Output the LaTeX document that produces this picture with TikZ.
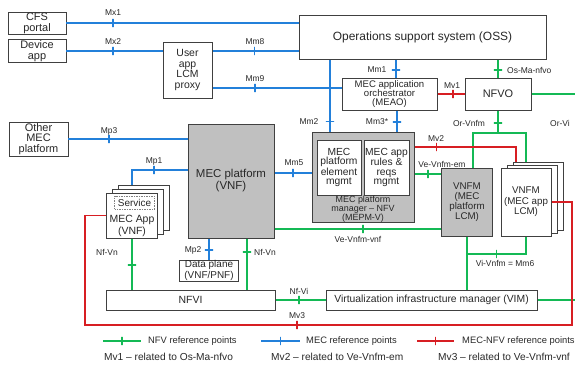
\documentclass[tikz,border=0pt]{standalone}
\usepackage{fontspec}
\setmainfont{Liberation Sans}
\definecolor{nfvgreen}{RGB}{20,185,85}
\definecolor{mecblue}{RGB}{35,128,218}
\definecolor{mnred}{RGB}{215,30,35}
\definecolor{edgegray}{RGB}{64,64,64}
\definecolor{txt}{RGB}{40,40,40}
\definecolor{platgray}{RGB}{192,192,192}
\newcommand{\fs}[1]{\fontsize{#1}{#1}\selectfont}
\tikzset{
  box/.style={draw=edgegray, line width=1pt, fill=white, inner sep=0.5pt,
    align=center, text=txt, font=\fontsize{11}{11}\selectfont},
  graybox/.style={box, fill=platgray},
  nfv/.style={color=nfvgreen, line width=1.6pt},
  mec/.style={color=mecblue, line width=1.6pt},
  mecnfv/.style={color=mnred, line width=1.6pt},
  tick/.style={draw, sloped, shape=rectangle, minimum width=0pt,
    minimum height=8.5pt, inner sep=0pt, outer sep=0pt, line width=1.7pt},
  lab/.style={text=txt, font=\fontsize{8.5}{9}\selectfont, inner sep=0pt},
  legtext/.style={text=txt, font=\fontsize{9.4}{10}\selectfont, inner sep=0pt, anchor=west},
  reltext/.style={text=txt, font=\fontsize{10.2}{11}\selectfont, inner sep=0pt, anchor=west},
}
\begin{document}
\begin{tikzpicture}[x=1bp,y=-1bp]
\useasboundingbox (0,0) rectangle (575,369);

% ---- boxes ----
\node[box, minimum width=58bp, minimum height=22bp] (cfs) at (37,23) {CFS\\portal};
\node[box, minimum width=58bp, minimum height=22bp] (dev) at (37,51) {Device\\app};
\node[box, minimum width=49bp, minimum height=56bp, font=\fs{10.5}] (proxy) at (187.5,70) {User\\app\\LCM\\proxy};
\node[box, minimum width=247bp, minimum height=44bp, font=\fs{12}] (oss) at (422.5,37) {Operations support system (OSS)};
\node[box, minimum width=95bp, minimum height=32bp, font=\fontsize{9.6}{9.2}\selectfont] (meao) at (389.5,94) {MEC application\\orchestrator\\(MEAO)};
\node[box, minimum width=66bp, minimum height=32bp] (nfvo) at (498,94) {NFVO};
\node[box, minimum width=59bp, minimum height=34bp, font=\fontsize{11}{10.5}\selectfont] (other) at (38.5,139) {Other\\MEC\\platform};
\node[graybox, minimum width=86bp, minimum height=114bp, font=\fontsize{11.5}{12}\selectfont] (mecp) at (231,181) {MEC platform\\(VNF)};

% MEC platform manager with its two inner blocks
\node[graybox, minimum width=102bp, minimum height=90bp] (mepm) at (363,177) {};
\node[box, minimum width=44bp, minimum height=55bp, font=\fontsize{10.3}{9.6}\selectfont] (pem) at (339,167.5) {MEC\\platform\\element\\mgmt};
\node[box, minimum width=45bp, minimum height=55bp, font=\fontsize{10.3}{9.6}\selectfont] (rules) at (386.5,167.5) {MEC app\\rules \&\\reqs\\mgmt};
\node[text=txt, align=center, inner sep=0pt, font=\fontsize{9}{9}\selectfont] (mepmlab) at (363,209.5) {MEC platform\\manager -- NFV\\(MEPM-V)};

\node[graybox, minimum width=51bp, minimum height=68bp, font=\fontsize{9.8}{10}\selectfont] (vnfmp) at (467,202) {VNFM\\(MEC\\platform\\LCM)};

% stacked VNFM (MEC app LCM)
\node[box, minimum width=50bp, minimum height=68bp] (vnfma3) at (538,196) {};
\node[box, minimum width=50bp, minimum height=68bp] (vnfma2) at (532,199) {};
\node[box, minimum width=50bp, minimum height=68bp, font=\fontsize{9.8}{10.5}\selectfont] (vnfma) at (526,202) {VNFM\\(MEC app\\LCM)};

% stacked MEC App (VNF)
\node[box, minimum width=51bp, minimum height=45bp] (app3) at (144,207.5) {};
\node[box, minimum width=51bp, minimum height=45bp] (app2) at (138,211.5) {};
\node[box, minimum width=51bp, minimum height=45bp] (app) at (132,215.5) {};
\node[draw=gray, line width=0.6pt, dash pattern=on 1.5pt off 1pt, minimum width=40bp,
  minimum height=13bp, inner sep=0pt, text=txt, font=\fs{10}] (svc) at (134.5,202.5) {Service};
\node[text=txt, align=center, inner sep=0pt, font=\fontsize{10.5}{11.5}\selectfont] (applab) at (132,226) {MEC App\\(VNF)};

\node[box, minimum width=59bp, minimum height=21bp, font=\fontsize{10}{10.5}\selectfont] (dp) at (209,270.5) {Data plane\\(VNF/PNF)};
\node[box, minimum width=169bp, minimum height=20bp, font=\fs{10.5}] (nfvi) at (190.5,300) {NFVI};
\node[box, minimum width=211bp, minimum height=20bp, font=\fs{10.4}] (vim) at (431.5,300) {Virtualization infrastructure manager (VIM)};

% ---- bend points ----
\coordinate (mp1) at (132,170);
\coordinate (jn) at (498,133);
\coordinate (g1) at (473,133);
\coordinate (g2) at (526,133);
\coordinate (rv) at (516,147);
\coordinate (em) at (0,174);
\coordinate (m5) at (0,173);
\coordinate (vv) at (0,229);
\coordinate (vm) at (467,254);
\coordinate (nr) at (247,0);
\coordinate (m2) at (330,0);
\coordinate (m1) at (396,0);
\coordinate (m3) at (397,0);
\coordinate (y51) at (0,51);
\coordinate (y88) at (0,88);
\coordinate (r1) at (85,325);
\coordinate (r2) at (572,325);
\coordinate (orvi) at (575,94);
\coordinate (vimr) at (575,300);

% ---- MEC reference points ----
\draw[mec] (cfs.east) -- node[pos=.2,tick]{} (oss.west |- cfs.east);
\draw[mec] (dev.east) -- node[pos=.485,tick]{} (proxy.west |- dev.east);
\draw[mec] (proxy.east |- y51) -- node[pos=.49,tick]{} (oss.west |- y51);
\draw[mec] (proxy.east |- y88) -- node[pos=.33,tick]{} (meao.west |- y88);
\draw[mec] (oss.south -| m2) -- node[pos=.86,tick]{} (mepm.north -| m2);
\draw[mec] (oss.south -| m1) -- node[pos=.57,tick]{} (meao.north -| m1);
\draw[mec] (meao.south -| m3) -- node[pos=.55,tick]{} (mepm.north -| m3);
\draw[mec] (other.east) -- node[pos=.34,tick]{} (mecp.west |- other.east);
\draw[mec] (mecp.west |- mp1) -- node[pos=.6,tick]{} (mp1) -- (mp1 |- app3.north);
\draw[mec] (mecp.east |- m5) -- node[pos=.5,tick]{} (mepm.west |- m5);
\draw[mec] (mecp.south -| dp.north) -- node[pos=.55,tick]{} (dp.north);

% ---- NFV reference points ----
\draw[nfv] (oss.south -| nfvo.north) -- node[pos=.57,tick]{} (nfvo.north);
\draw[nfv] (nfvo.east) -- (orvi);
\draw[nfv] (nfvo.south) -- node[pos=.55,tick]{} (jn);
\draw[nfv] (g1 |- vnfmp.north) -- (g1) -- (g2) -- (g2 |- vnfma3.north);
\draw[nfv] (mepm.east |- em) -- node[pos=.5,tick]{} (vnfmp.west |- em);
\draw[nfv] (mecp.east |- vv) -- node[pos=.53,tick]{} (vnfmp.west |- vv);
\draw[nfv] (vnfmp.south) -- (vim.north -| vnfmp.south);
\draw[nfv] (vnfma.south) -- (vnfma.south |- vm) -- node[pos=.5,tick]{} (vm);
\draw[nfv] (app.south) -- node[pos=.52,tick]{} (nfvi.north -| app.south);
\draw[nfv] (mecp.south -| nr) -- node[pos=.27,tick]{} (nfvi.north -| nr);
\draw[nfv] (nfvi.east) -- node[pos=.47,tick]{} (vim.west);
\draw[nfv] (vim.east) -- (vimr);

% ---- MEC-NFV reference points ----
\draw[mecnfv] (meao.east) -- node[pos=.57,tick]{} (nfvo.west);
\draw[mecnfv] (mepm.east |- rv) -- node[pos=.216,tick]{} (rv) -- (rv |- vnfma3.north);
\draw[mecnfv] (app.west) -| (r1) -- node[pos=.435,tick]{} (r2) |- (vnfma.east);

% ---- reference point labels ----
\node[lab] at (113,13) {Mx1};
\node[lab] at (113,42) {Mx2};
\node[lab] at (255,42) {Mm8};
\node[lab] at (255,79) {Mm9};
\node[lab] at (109,131) {Mp3};
\node[lab] at (154,161) {Mp1};
\node[lab] at (294,163) {Mm5};
\node[lab] at (309,122) {Mm2};
\node[lab] at (377,70) {Mm1};
\node[lab] at (377,122) {Mm3*};
\node[lab] at (452,86) {Mv1};
\node[lab, anchor=west] at (507,70) {Os-Ma-nfvo};
\node[lab] at (469,123) {Or-Vnfm};
\node[lab] at (560,123) {Or-Vi};
\node[lab] at (436,139) {Mv2};
\node[lab] at (442,164) {Ve-Vnfm-em};
\node[lab] at (358,239) {Ve-Vnfm-vnf};
\node[lab] at (505,263) {Vi-Vnfm = Mm6};
\node[lab] at (107,252) {Nf-Vn};
\node[lab] at (193,250) {Mp2};
\node[lab] at (265,252) {Nf-Vn};
\node[lab] at (299,291) {Nf-Vi};
\node[lab] at (297,316) {Mv3};

% ---- legend ----
\coordinate (lg1) at (103,341); \coordinate (lg2) at (141,341);
\coordinate (lb1) at (261,341); \coordinate (lb2) at (300,341);
\coordinate (lr1) at (417,341); \coordinate (lr2) at (454,341);
\draw[nfv] (lg1) -- node[tick]{} (lg2);
\draw[mec] (lb1) -- node[tick]{} (lb2);
\draw[mecnfv] (lr1) -- node[tick]{} (lr2);
\node[legtext] (lgt) at (148,341) {NFV reference points};
\node[legtext] (lbt) at (306,341) {MEC reference points};
\node[legtext] (lrt) at (462,341) {MEC-NFV reference points};
\node[reltext] (rel1) at (104,357) {Mv1 -- related to Os-Ma-nfvo};
\node[reltext] (rel2) at (271,357) {Mv2 -- related to Ve-Vnfm-em};
\node[reltext] (rel3) at (438,357) {Mv3 -- related to Ve-Vnfm-vnf};
\end{tikzpicture}
\end{document}
